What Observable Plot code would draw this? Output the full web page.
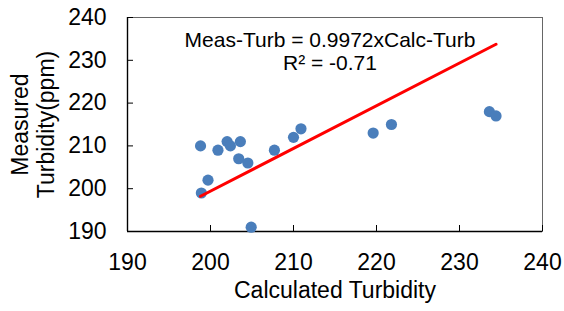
<!DOCTYPE html>
<html>
<head>
<meta charset="utf-8">
<script src="https://cdn.jsdelivr.net/npm/d3@7"></script>
<script src="https://cdn.jsdelivr.net/npm/@observablehq/plot@0.6"></script>
<style>
  html, body { margin: 0; padding: 0; background: #fff; }
  #chart svg { display: block; }
</style>
</head>
<body>
<div id="chart"></div>
<script>
// Data
const calcTurb = [198.8, 198.9, 199.7, 200.9, 202.0, 202.4, 203.6, 203.4, 204.5, 204.9, 207.7, 210.0, 210.9, 219.6, 221.8, 233.6, 234.4];
const measTurb = [210, 199, 202, 209, 211, 210, 211, 207, 206, 191, 209, 212, 214, 213, 215, 218, 217];
const trendSlope = 0.9972;
const equationText = "Meas-Turb = 0.9972xCalc-Turb\nR² = -0.71";
const xTicks = [190, 200, 210, 220, 230, 240];
const yTicks = [190, 200, 210, 220, 230, 240];
const xTitle = "Calculated Turbidity";
const yTitle = "Measured\nTurbidity(ppm)";

const points = calcTurb.map((c, i) => ({calc: c, meas: measTurb[i]}));
const xExt = d3.extent(calcTurb);
const trend = xExt.map(x => ({calc: x, meas: trendSlope * x}));

const font = "'Liberation Sans', Arial, sans-serif";

const chart = Plot.plot({
  width: 564,
  height: 311,
  marginLeft: 127,
  marginRight: 22,
  marginTop: 17,
  marginBottom: 80,
  style: {fontFamily: font, color: "#000", background: "#fff"},
  x: {domain: [xTicks[0], xTicks[xTicks.length - 1]]},
  y: {domain: [yTicks[0], yTicks[yTicks.length - 1]]},
  marks: [
    Plot.frame({stroke: "#666", strokeWidth: 1}),
    Plot.axisX({ticks: xTicks, tickSize: -6, tickPadding: 28, fontSize: 23, label: null, stroke: "#000"}),
    Plot.axisY({ticks: yTicks, tickSize: -6, tickPadding: 27, fontSize: 23, label: null, stroke: "#000"}),
    Plot.ruleX([xTicks[0]], {stroke: "#000", strokeWidth: 1.4}),
    Plot.ruleY([yTicks[0]], {stroke: "#000", strokeWidth: 1.4}),
    Plot.dot(points, {x: "calc", y: "meas", r: 5.6, fill: "#4a7ebb", stroke: "none"}),
    Plot.line(trend, {x: "calc", y: "meas", stroke: "#ff0000", strokeWidth: 3}),
    Plot.text([equationText], {frameAnchor: "top", text: d => d, dx: -5, dy: 13, lineAnchor: "top", lineHeight: 1.1, fontSize: 21, fill: "#000"}),
    Plot.text([xTitle], {frameAnchor: "bottom", text: d => d, dy: 50, lineAnchor: "top", fontSize: 23, fill: "#000"}),
    Plot.text([yTitle], {frameAnchor: "left", text: d => d, rotate: -90, dx: -95, textAnchor: "middle", lineAnchor: "middle", lineHeight: 1.15, fontSize: 23, fill: "#000"})
  ]
});
document.getElementById("chart").appendChild(chart);
</script>
</body>
</html>
